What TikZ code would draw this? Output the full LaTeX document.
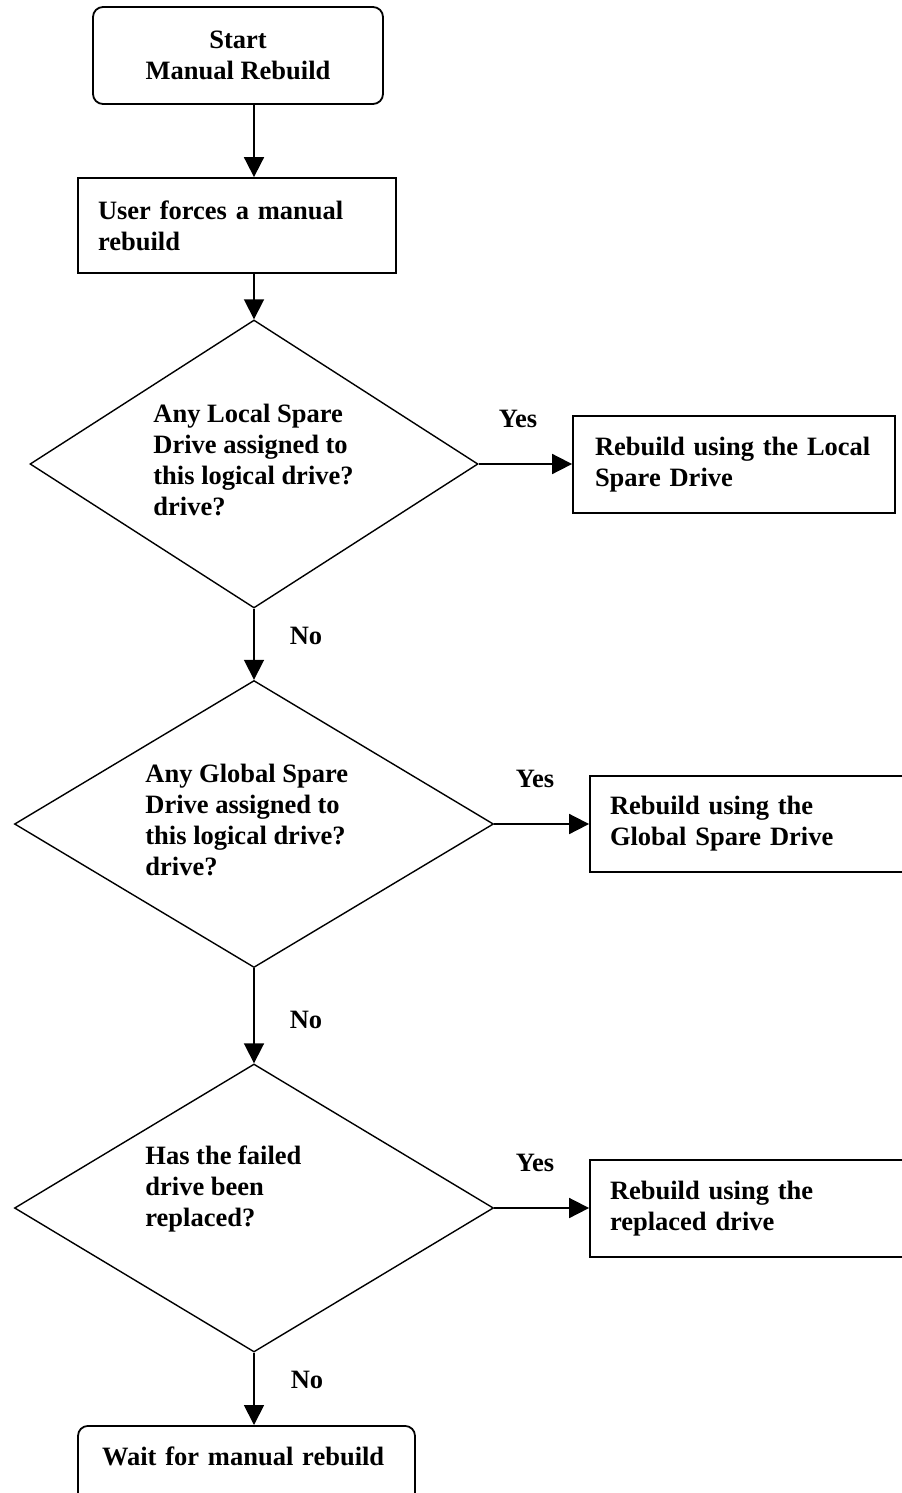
\documentclass[tikz,border=0pt]{standalone}
\usepackage{fontspec}
\setmainfont{Liberation Serif}
\usetikzlibrary{shapes.geometric,arrows.meta}
\begin{document}
\begin{tikzpicture}[x=0.5pt,y=-0.5pt,
  every node/.style={font=\fontsize{13.25}{15.5}\selectfont\bfseries},
  termbox/.style={draw,line width=0.9pt,rectangle,rounded corners=5pt,inner ysep=0pt},
  procbox/.style={draw,line width=0.9pt,rectangle,align=left,inner ysep=0pt,inner xsep=10pt},
  decision/.style={draw,line width=0.7pt,diamond,inner sep=0pt},
  qtext/.style={align=left,inner sep=0pt,anchor=west},
  lbl/.style={inner sep=0pt},
  arr/.style={line width=0.9pt,-{Triangle[length=10pt,width=10pt]}}
]
\useasboundingbox (0,0) rectangle (901,1493);

% start / end terminals
\node[termbox,align=center,minimum width=145pt,minimum height=48.5pt] (start) at (238,55.5)
  {Start\\Manual Rebuild};
\node[termbox,align=left,anchor=north,text width=144.5pt,inner xsep=12pt,minimum height=48.5pt] (wait) at (246.5,1425)
  {Wait for manual rebuild\\[3pt]\mbox{}};

% process boxes
\node[procbox,text width=139pt,minimum height=47.5pt] (force) at (237,225.5)
  {User forces a manual\\rebuild};
\node[procbox,text width=139pt,inner xsep=11pt,minimum height=48.5pt] (local) at (734,464.5)
  {Rebuild using the Local\\Spare Drive};
\node[procbox,text width=141pt,minimum height=48pt] (global) at (751,824)
  {Rebuild using the\\Global Spare Drive};
\node[procbox,text width=141pt,minimum height=48.5pt] (repl) at (751,1208.5)
  {Rebuild using the\\replaced drive};

% decisions
\node[decision,minimum width=224pt,minimum height=144pt] (d1) at (254,464) {};
\node[decision,minimum width=239.5pt,minimum height=143.5pt] (d2) at (254,824) {};
\node[decision,minimum width=239.5pt,minimum height=144pt] (d3) at (254,1208) {};

\node[qtext] (d1t) at (153,460) {Any Local Spare\\Drive assigned to\\this logical drive?\\drive?};
\node[qtext] (d2t) at (145,820) {Any Global Spare\\Drive assigned to\\this logical drive?\\drive?};
\node[qtext] (d3t) at (145,1189) {Has the failed\\drive been\\replaced?};

% branch labels
\node[lbl] (yes1) at (518,419) {Yes};
\node[lbl] (yes2) at (535,779) {Yes};
\node[lbl] (yes3) at (535,1163) {Yes};
\node[lbl] (no1) at (306,636) {No};
\node[lbl] (no2) at (306,1020) {No};
\node[lbl] (no3) at (307,1380) {No};

% connectors
\draw[arr] (start.south -| d1.north) -- (force.north -| d1.north);
\draw[arr] (force.south -| d1.north) -- (d1.north);
\draw[arr] (d1.east) -- (d1.east -| local.west);
\draw[arr] (d1.south) -- (d2.north);
\draw[arr] (d2.east) -- (d2.east -| global.west);
\draw[arr] (d2.south) -- (d3.north);
\draw[arr] (d3.east) -- (d3.east -| repl.west);
\draw[arr] (d3.south) -- (wait.north -| d3.south);
\end{tikzpicture}
\end{document}
